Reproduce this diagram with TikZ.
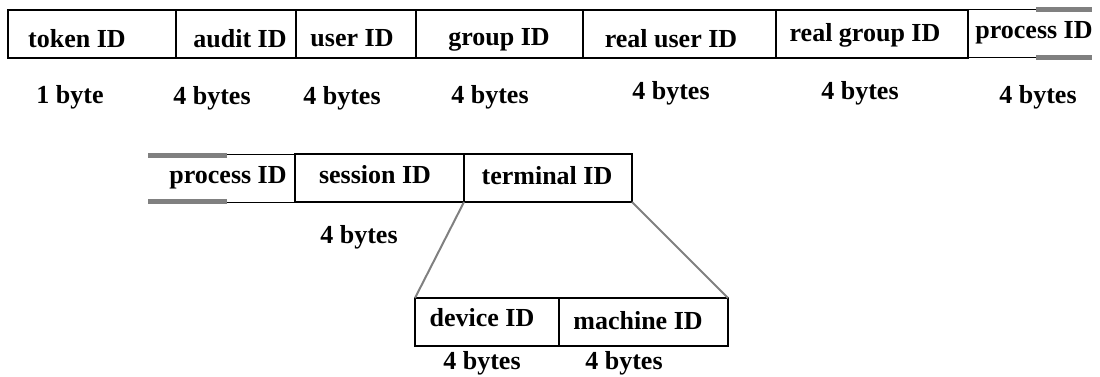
\documentclass[tikz,border=0pt]{standalone}
\usepackage{fontspec}
\setmainfont{Liberation Serif}
\begin{document}
\begin{tikzpicture}[x=1pt,y=-1pt,
  box/.style={draw=black,line width=2pt,inner sep=0pt,outer sep=0pt,minimum height=48pt,anchor=north west},
  lbl/.style={inner sep=0pt,anchor=base,font=\fontsize{26}{30}\selectfont\bfseries},
  thinln/.style={draw=black,line width=1pt},
  grayln/.style={draw=gray,line width=5pt},
  zoomln/.style={draw=gray,line width=2pt}]
\useasboundingbox (0,0) rectangle (1100,377);
% top row
\node[box,minimum width=168pt] (tok) at (8,10) {};
\node[box,minimum width=120pt] (aud) at (176,10) {};
\node[box,minimum width=120pt] (usr) at (296,10) {};
\node[box,minimum width=167pt] (grp) at (416,10) {};
\node[box,minimum width=193pt] (rusr) at (583,10) {};
\node[box,minimum width=192pt] (rgrp) at (776,10) {};
\coordinate (p1t) at (1036,10);
\coordinate (p1b) at (1036,58);
\coordinate (p1te) at (1092,10);
\coordinate (p1be) at (1092,58);
\draw[thinln] (rgrp.north east) -- (p1t);
\draw[thinln] (rgrp.south east) -- (p1b);
\draw[grayln] (p1t) -- (p1te);
\draw[grayln] (p1b) -- (p1be);
\node[lbl] (ttok) at (77,48) {token ID};
\node[lbl] (taud) at (240,48) {audit ID};
\node[lbl] (tusr) at (352,47) {user ID};
\node[lbl] (tgrp) at (499,46) {group ID};
\node[lbl] (trusr) at (671,48) {real user ID};
\node[lbl] (trgrp) at (865,42) {real group ID};
\node[lbl] (tproc) at (1034,39) {process ID};
\node[lbl] (b1) at (70,104) {1 byte};
\node[lbl] (b2) at (212,105) {4 bytes};
\node[lbl] (b3) at (342,105) {4 bytes};
\node[lbl] (b4) at (490,104) {4 bytes};
\node[lbl] (b5) at (671,100) {4 bytes};
\node[lbl] (b6) at (860,100) {4 bytes};
\node[lbl] (b7) at (1038,104) {4 bytes};
% second row
\node[box,minimum width=169pt] (ses) at (295,154) {};
\node[box,minimum width=168pt] (term) at (464,154) {};
\coordinate (p2t) at (227,154);
\coordinate (p2b) at (227,202);
\coordinate (p2ts) at (148,155);
\coordinate (p2bs) at (148,201);
\draw[thinln] (ses.north west) -- (p2t);
\draw[thinln] (ses.south west) -- (p2b);
\draw[grayln] (p2t |- p2ts) -- (p2ts);
\draw[grayln] (p2b |- p2bs) -- (p2bs);
\node[lbl] (tproc2) at (228,183) {process ID};
\node[lbl] (tses) at (375,183) {session ID};
\node[lbl] (tterm) at (547,184) {terminal ID};
\node[lbl] (b8) at (359,243) {4 bytes};
% bottom row
\node[box,minimum width=144pt] (dev) at (415,298) {};
\node[box,minimum width=169pt] (mach) at (559,298) {};
\draw[zoomln] (term.south west) -- (dev.north west);
\draw[zoomln] (term.south east) -- (mach.north east);
\node[lbl] (tdev) at (482,326) {device ID};
\node[lbl] (tmach) at (638,329) {machine ID};
\node[lbl] (b9) at (482,369) {4 bytes};
\node[lbl] (b10) at (624,369) {4 bytes};
\end{tikzpicture}
\end{document}
